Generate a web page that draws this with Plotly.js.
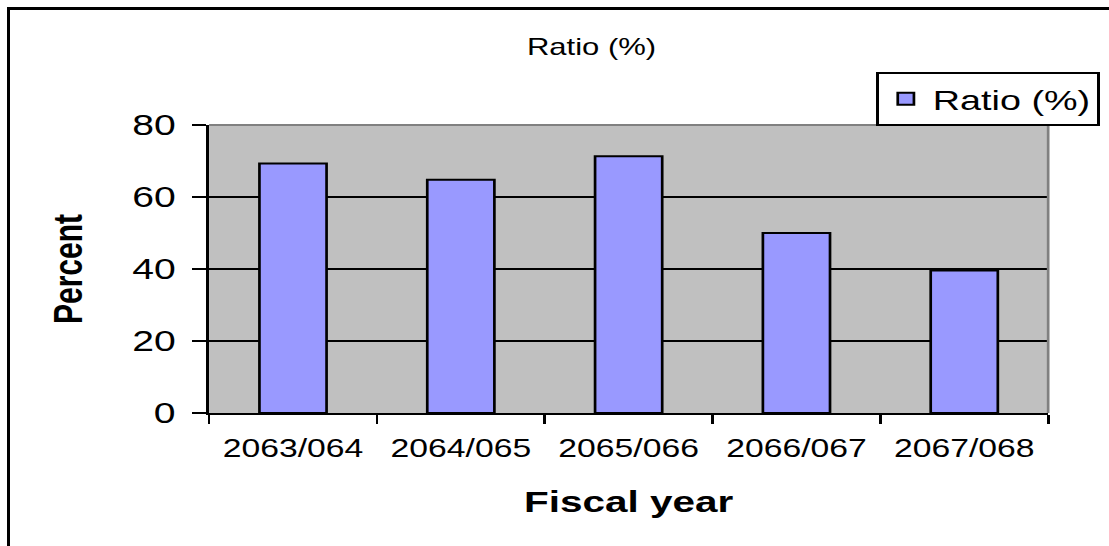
<!DOCTYPE html>
<html>
<head>
<meta charset="utf-8">
<script src="https://cdn.plot.ly/plotly-3.0.1.min.js"></script>
<style>
  html, body { margin: 0; padding: 0; width: 1109px; height: 546px; overflow: hidden; background: #ffffff; }
  #wrap { position: absolute; left: 0; top: 0; width: 822px; height: 546px; transform: scaleX(1.349); transform-origin: 0 0; }
  #chart { width: 822px; height: 546px; }
  #frame { position: absolute; left: 7px; top: 7px; width: 1200px; height: 600px; border: 3px solid #000; pointer-events: none; z-index: 10; }
</style>
</head>
<body>
<div id="wrap"><div id="chart"></div></div>
<div id="frame"></div>
<script>
  // Data
  const categories = ["2063/064", "2064/065", "2065/066", "2066/067", "2067/068"];
  const ratioValues = [69.3, 64.8, 71.3, 50.0, 39.6];
  const seriesName = "Ratio (%)";
  const chartTitle = "Ratio (%)";
  const xTitle = "Fiscal year";
  const yTitle = "Percent";
  const yTickVals = [0, 20, 40, 60, 80];

  const font = "Liberation Sans, Arial, sans-serif";

  const trace = {
    type: "bar",
    x: categories,
    y: ratioValues,
    name: seriesName,
    showlegend: true,
    marker: { color: "#9999FF", line: { color: "#000000", width: 2 } },
    hoverinfo: "x+y"
  };

  const layout = {
    width: 822,
    height: 546,
    margin: { l: 155, r: 45, t: 125, b: 133, pad: 0, autoexpand: false },
    paper_bgcolor: "#ffffff",
    plot_bgcolor: "#C0C0C0",
    font: { family: font, color: "#000000" },
    bargap: 0.6,
    title: {
      text: chartTitle,
      font: { family: font, size: 23, color: "#000000" },
      x: 0.5335, xref: "container", xanchor: "center",
      y: 0.914, yref: "container", yanchor: "middle"
    },
    xaxis: {
      type: "category",
      tickson: "boundaries",
      ticks: "outside",
      ticklen: 9,
      tickwidth: 2,
      tickcolor: "#000000",
      showline: true,
      linecolor: "#000000",
      linewidth: 2,
      showgrid: false,
      zeroline: false,
      ticklabelstandoff: 12,
      tickfont: { family: font, size: 25, color: "#000000" },
      title: { text: xTitle, font: { family: font, size: 30, color: "#000000", weight: "bold" }, standoff: 30 },
      automargin: false
    },
    yaxis: {
      range: [0, 80],
      tickvals: yTickVals,
      ticks: "outside",
      ticklen: 11,
      tickwidth: 2,
      tickcolor: "#000000",
      showline: true,
      linecolor: "#000000",
      linewidth: 2,
      showgrid: true,
      gridcolor: "#000000",
      gridwidth: 2,
      zeroline: false,
      ticklabelstandoff: 6,
      tickfont: { family: font, size: 29, color: "#000000" },
      title: { text: yTitle, font: { family: font, size: 30, color: "#000000", weight: "bold" }, standoff: 28 },
      automargin: false
    },
    legend: {
      x: 0.795, xanchor: "left",
      y: 1.184, yanchor: "top",
      bgcolor: "#ffffff",
      bordercolor: "#000000",
      borderwidth: 2,
      font: { family: font, size: 28, color: "#000000" },
      itemwidth: 30,
      itemclick: false
    },
    shapes: [
      { type: "line", xref: "paper", yref: "paper", x0: 0, x1: 1, y0: 1, y1: 1, line: { color: "#808080", width: 2 } },
      { type: "line", xref: "paper", yref: "paper", x0: 1, x1: 1, y0: 0, y1: 1, line: { color: "#808080", width: 2 } }
    ]
  };

  Plotly.newPlot("chart", [trace], layout, { displayModeBar: false, staticPlot: true });
</script>
</body>
</html>
